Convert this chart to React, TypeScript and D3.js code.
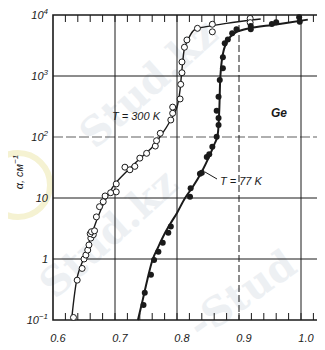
import React, { useEffect, useRef } from "react";
import * as d3 from "d3";

const W = 325;
const H = 350;
const ink = "#1a1a1a";

// photon energy (eV) / absorption coefficient (cm^-1)
const warmDotsE = [0.633, 0.639, 0.647, 0.65, 0.653, 0.656, 0.658, 0.661, 0.665, 0.66, 0.662, 0.667, 0.67, 0.675, 0.681, 0.684, 0.693, 0.702, 0.702, 0.716, 0.724, 0.732, 0.74, 0.751, 0.765, 0.767, 0.773, 0.79, 0.793, 0.793, 0.805, 0.806, 0.808, 0.808, 0.812, 0.816, 0.833, 0.857, 0.857, 0.918, 0.918];
const warmDotsA = [0.11, 0.45, 0.7, 1.0, 1.16, 1.4, 1.7, 2.2, 2.5, 2.6, 2.8, 2.9, 4.9, 7.2, 8.7, 10.8, 12.2, 12.6, 17, 32, 29, 33, 45, 54, 71, 87, 115, 190, 245, 309, 420, 730, 1130, 1700, 2960, 3900, 6050, 7050, 5300, 8800, 7500];

const coldDotsE = [0.746, 0.748, 0.758, 0.763, 0.77, 0.777, 0.786, 0.79, 0.821, 0.822, 0.837, 0.84, 0.848, 0.852, 0.857, 0.864, 0.867, 0.867, 0.864, 0.867, 0.869, 0.874, 0.874, 0.877, 0.882, 0.889, 0.896, 0.919, 0.919, 0.953, 0.96, 0.997, 0.998];
const coldDotsA = [0.176, 0.28, 0.55, 0.96, 1.32, 1.85, 2.7, 3.4, 10.5, 14.5, 25, 26, 47, 52, 69, 101, 157, 204, 270, 457, 860, 1340, 2030, 3440, 3980, 5010, 5830, 6600, 5820, 7100, 7600, 9170, 7770];

const warmLineE = [0.63, 0.64, 0.65, 0.66, 0.67, 0.684, 0.7, 0.72, 0.74, 0.76, 0.774, 0.79, 0.8, 0.805, 0.807, 0.809, 0.812, 0.818, 0.828, 0.85, 0.88, 0.935];
const warmLineA = [0.1, 0.55, 1.05, 2.1, 4.2, 9, 17, 28, 44, 68, 105, 190, 310, 600, 1000, 1600, 2800, 4000, 5700, 6500, 7300, 8600];

const coldLineE = [0.737, 0.745, 0.752, 0.761, 0.77, 0.78, 0.79, 0.8, 0.813, 0.825, 0.84, 0.852, 0.86, 0.865, 0.868, 0.87, 0.873, 0.877, 0.885, 0.895, 0.915, 0.96, 1.011];
const coldLineA = [0.1, 0.22, 0.45, 1.0, 1.6, 2.6, 3.9, 5.7, 10, 15, 27, 48, 75, 100, 250, 1000, 2000, 3000, 4300, 5200, 6000, 7000, 8400];

const xGrid = [0.7, 0.8, 0.9, 1.0];
const xLabels = ["0,6", "0,7", "0,8", "0,9", "1,0"];
const yDecades = [-1, 0, 1, 2, 3, 4];
const minorStep = 0.02;

const App = () => {
  const svgRef = useRef(null);

  useEffect(() => {
    const svg = d3.select(svgRef.current);
    svg.selectAll("*").remove();

    const x = d3.scaleLinear().domain([0.6, 1.0]).range([53, 301]);
    const y = d3.scaleLog().domain([0.1, 1e4]).range([320, 15]);
    const left = 53;
    const right = 318;
    const top = 15;
    const bottom = 320;

    // watermark
    const wm = svg.append("g").attr("fill", "#edf0f3").attr("font-family", "DejaVu Serif").attr("font-weight", "bold").attr("font-size", 40);
    wm.append("text").attr("transform", "translate(95,150) rotate(-42)").text("Stud.kz");
    wm.append("text").attr("transform", "translate(55,300) rotate(-42)").text("Stud.kz");
    wm.append("text").attr("transform", "translate(200,340) rotate(-35)").text("-Stud");
    svg.append("circle").attr("cx", 18).attr("cy", 185).attr("r", 32).attr("fill", "none").attr("stroke", "#f5f2d2").attr("stroke-width", 6);

    const g = svg.append("g");

    // grid
    g.selectAll(".vg")
      .data(xGrid)
      .join("line")
      .attr("x1", (d) => x(d))
      .attr("x2", (d) => x(d))
      .attr("y1", top)
      .attr("y2", bottom)
      .attr("stroke", ink)
      .attr("stroke-width", 1)
      .attr("stroke-dasharray", (d) => (d === 0.9 ? "7,3" : null));
    g.selectAll(".hg")
      .data([0, 1, 2, 3])
      .join("line")
      .attr("x1", left)
      .attr("x2", right)
      .attr("y1", (d) => y(Math.pow(10, d)))
      .attr("y2", (d) => y(Math.pow(10, d)))
      .attr("stroke", ink)
      .attr("stroke-width", (d) => (d === 2 ? 0.7 : 1))
      .attr("stroke-dasharray", (d) => (d === 2 ? "10,3" : null));

    // frame
    g.append("path")
      .attr("d", `M${right},${top}H${left}V${bottom}H${right}`)
      .attr("fill", "none")
      .attr("stroke", ink)
      .attr("stroke-width", 1.6);

    // minor ticks top and bottom
    const ticks = d3.range(0.62, 1.021, minorStep);
    g.selectAll(".tb")
      .data(ticks)
      .join("line")
      .attr("x1", (d) => x(d))
      .attr("x2", (d) => x(d))
      .attr("y1", bottom)
      .attr("y2", bottom - 7)
      .attr("stroke", ink);
    g.selectAll(".tt")
      .data(ticks)
      .join("line")
      .attr("x1", (d) => x(d))
      .attr("x2", (d) => x(d))
      .attr("y1", top)
      .attr("y2", top + 7)
      .attr("stroke", ink);

    // tick labels
    const lab = svg.append("g").attr("font-family", "Liberation Sans").attr("font-style", "italic").attr("fill", ink);
    lab.selectAll(".xl")
      .data(xLabels)
      .join("text")
      .attr("x", (d, i) => x(0.6 + i * 0.1) + 5)
      .attr("y", 342)
      .attr("text-anchor", "middle")
      .attr("font-size", 11)
      .text((d) => d);
    yDecades.forEach((p) => {
      const t = lab
        .append("text")
        .attr("x", 48)
        .attr("y", y(Math.pow(10, p)) + 4)
        .attr("text-anchor", "end")
        .attr("font-size", 11);
      if (p === 0) t.text("1");
      else if (p === 1) t.text("10");
      else {
        t.append("tspan").text("10");
        t.append("tspan").attr("dy", -5).attr("font-size", 8).text(String(p).replace("-", "−"));
      }
    });

    // axis title
    const yt = lab.append("text").attr("transform", "translate(23,172) rotate(-90)").attr("text-anchor", "middle").attr("font-size", 11);
    yt.append("tspan").text("α, см");
    yt.append("tspan").attr("dy", -5).attr("font-size", 8).text("−1");

    // curves
    const line = d3
      .line<[number, number]>()
      .x((d) => x(d[0]))
      .y((d) => y(d[1]))
      .curve(d3.curveCatmullRom.alpha(0.5));
    const warmLine = warmLineE.map((e, i) => [e, warmLineA[i]] as [number, number]);
    const coldLine = coldLineE.map((e, i) => [e, coldLineA[i]] as [number, number]);
    g.append("path").attr("d", line(warmLine)).attr("fill", "none").attr("stroke", ink).attr("stroke-width", 1.4);
    g.append("path").attr("d", line(coldLine)).attr("fill", "none").attr("stroke", ink).attr("stroke-width", 2);

    // points
    g.selectAll(".wd")
      .data(warmDotsE.map((e, i) => [e, warmDotsA[i]]))
      .join("circle")
      .attr("cx", (d) => x(d[0]))
      .attr("cy", (d) => y(d[1]))
      .attr("r", 3)
      .attr("fill", "white")
      .attr("stroke", ink)
      .attr("stroke-width", 1);
    g.selectAll(".cd")
      .data(coldDotsE.map((e, i) => [e, coldDotsA[i]]))
      .join("circle")
      .attr("cx", (d) => x(d[0]))
      .attr("cy", (d) => y(d[1]))
      .attr("r", 3)
      .attr("fill", ink);

    // annotations
    lab.append("text").attr("x", 112).attr("y", 120).attr("font-size", 11).text("T = 300 K");
    lab.append("text").attr("x", 220).attr("y", 185).attr("font-size", 11).text("T = 77 K");
    g.append("line").attr("x1", 205).attr("y1", 172).attr("x2", 217).attr("y2", 179).attr("stroke", ink);
    lab.append("text").attr("x", 271).attr("y", 117).attr("font-size", 12).attr("font-weight", "bold").text("Ge");
  }, []);

  return <svg ref={svgRef} width={W} height={H} style={{ display: "block", margin: "-8px", background: "white" }} />;
};

export default App;
